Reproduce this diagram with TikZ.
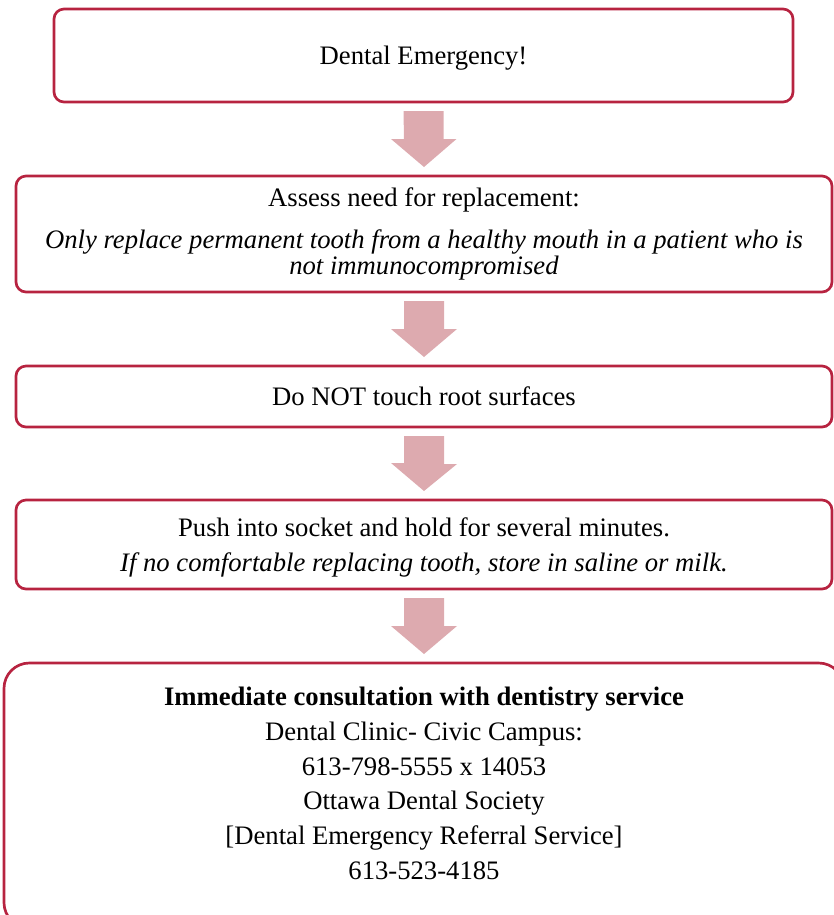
\documentclass[tikz,border=0pt]{standalone}
\usepackage{fontspec}
\setmainfont{Liberation Serif}
\usetikzlibrary{calc}
\definecolor{boxred}{RGB}{183,35,64}
\definecolor{arrowpink}{RGB}{221,170,175}

\begin{document}
\begin{tikzpicture}[x=0.75pt, y=-0.75pt,
    every node/.style={font=\fontsize{20}{26}\selectfont, align=center, outer sep=0pt},
    stepbox/.style={draw=boxred, line width=2pt, rounded corners=7.5pt, minimum width=612pt},
    flowarrow/.style={fill=arrowpink}]
    %tooth emergency flow
    \useasboundingbox (0,0) rectangle (833,915);
    \node[stepbox, minimum width=554.25pt, minimum height=69.75pt, text depth=-3pt] at (423.5,55.5) (emerg){Dental Emergency!};
    \node[stepbox, minimum height=87pt] at (424,234) (assess){Assess need for replacement:\\[5.5pt]
        \textit{Only replace permanent tooth from a healthy mouth in a patient who is}\\[-6.5pt]
        \textit{not immunocompromised}};
    \node[stepbox, minimum height=45.75pt] at (424,396.5) (root){Do NOT touch root surfaces};
    \node[stepbox, minimum height=66.75pt, text depth=-4.5pt] at (424,544.5) (socket){Push into socket and hold for several minutes.\\
        \textit{If no comfortable replacing tooth, store in saline or milk.}};
    \node[stepbox, rounded corners=19pt, minimum width=630pt, minimum height=198.75pt] at (424,795.5) (consult){};
    \node at (424,783.5) (contact){\textbf{Immediate consultation with dentistry service}\\
        Dental Clinic- Civic Campus:\\
        613-798-5555 x 14053\\
        Ottawa Dental Society\\
        {[}Dental Emergency Referral Service{]}\\
        613-523-4185};
    \foreach \a/\b in {emerg/assess, assess/root, root/socket, socket/consult}
        \fill[flowarrow] ($(\a.south)+(-20,9)$) -- ++(40,0) -- ++(0,28) -- ++(13,0)
            -- ($(\b.north)+(0,-9)$) -- ($(\b.north)+(-33,-37)$) -- ++(13,0) -- cycle;
\end{tikzpicture}
\end{document}
